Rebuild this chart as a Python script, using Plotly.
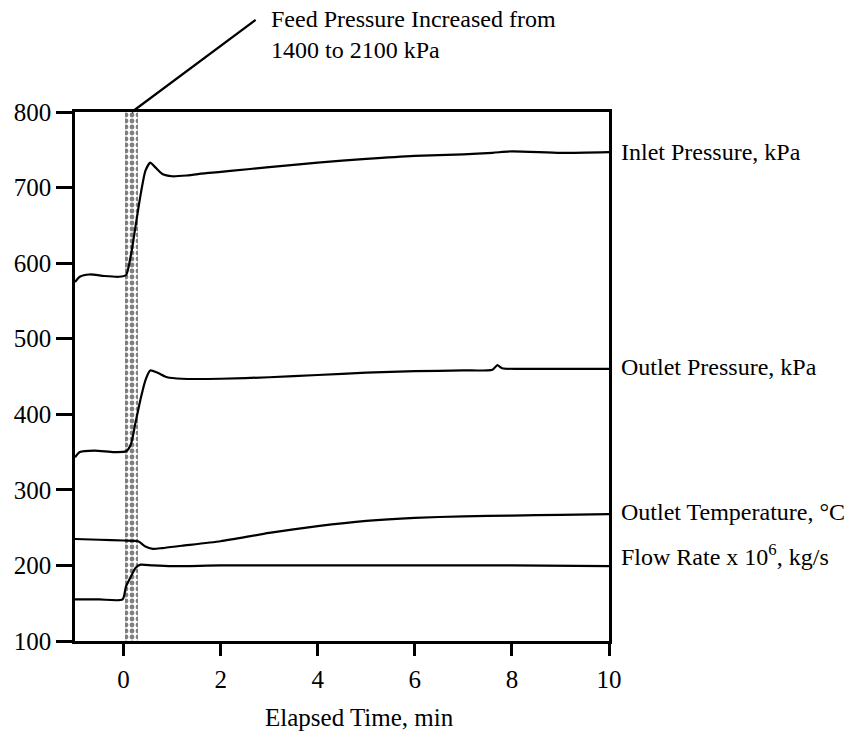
import plotly.graph_objects as go

# Transient response after the feed pressure step (time in minutes)
t_inlet = [-1.0, -0.9, -0.7, -0.4, -0.1, 0.05, 0.15, 0.25, 0.35, 0.45, 0.55, 0.65,
           0.8, 1.0, 1.3, 1.7, 2.2, 3.0, 4.0, 5.0, 6.0, 7.0, 7.6, 8.0, 9.0, 10.0]
inlet_pressure = [575, 582, 585, 583, 582, 584, 610, 650, 690, 722, 733, 727,
                  718, 715, 716, 719, 722, 727, 733, 738, 742, 744, 746, 748, 746, 747]

t_outlet = [-1.0, -0.9, -0.6, -0.2, 0.05, 0.15, 0.25, 0.35, 0.45, 0.55, 0.7, 0.9,
            1.2, 2.0, 3.0, 4.0, 5.0, 6.0, 7.0, 7.6, 7.7, 7.8, 8.5, 10.0]
outlet_pressure = [343, 350, 352, 350, 351, 360, 390, 420, 445, 458, 455, 449,
                   447, 447, 449, 452, 455, 457, 458, 459, 465, 461, 460, 460]

t_temp = [-1.0, -0.5, 0.0, 0.3, 0.45, 0.6, 0.8, 1.2, 2.0, 3.0, 4.0, 5.0, 6.0, 7.0, 8.0, 9.0, 10.0]
outlet_temp = [235, 234, 233, 232, 225, 222, 223, 226, 232, 243, 252, 259, 263, 265, 266, 267, 268]

t_flow = [-1.0, -0.5, -0.02, 0.05, 0.15, 0.25, 0.35, 0.6, 1.0, 2.0, 4.0, 6.0, 8.0, 10.0]
flow_rate = [155, 155, 155, 172, 185, 197, 201, 200, 199, 200, 200, 200, 200, 199]

series_labels = ["Inlet Pressure, kPa", "Outlet Pressure, kPa",
                 "Outlet Temperature, \u00b0C", "Flow Rate x 10<sup>6</sup>, kg/s"]
label_levels = [747, 463, 271, 214]

# Feed pressure step interval
step_start, step_end = 0.03, 0.29

x_ticks = [0, 2, 4, 6, 8, 10]
y_ticks = [100, 200, 300, 400, 500, 600, 700, 800]

FONT = "Liberation Serif"
FS = 25
fig = go.Figure()

# Stippled band marking the pressure step
fig.add_trace(go.Bar(
    x=[(step_start + step_end) / 2], y=[800 - 100], base=[100],
    width=[step_end - step_start],
    marker=dict(color="white", line=dict(width=0),
                pattern=dict(shape=".", fgcolor="black", bgcolor="white",
                             size=6, solidity=0.5)),
    hoverinfo="skip", showlegend=False,
))

for tx, ty in [(t_inlet, inlet_pressure), (t_outlet, outlet_pressure),
               (t_temp, outlet_temp), (t_flow, flow_rate)]:
    fig.add_trace(go.Scatter(
        x=tx, y=ty, mode="lines",
        line=dict(color="black", width=2.2, shape="spline", smoothing=0.6),
        showlegend=False, hoverinfo="skip",
    ))

annotations = []
for text, lvl in zip(series_labels, label_levels):
    annotations.append(dict(
        xref="paper", x=1, yref="y", y=lvl, text=text, showarrow=False,
        xanchor="left", yanchor="middle", xshift=10,
        font=dict(family=FONT, size=24, color="black"),
    ))

annotations.append(dict(
    xref="x", yref="paper", x=3.0, y=1.146, xanchor="left", yanchor="middle",
    text="Feed Pressure Increased from<br>1400 to 2100 kPa", showarrow=False, align="left",
    font=dict(family=FONT, size=24, color="black"),
))
annotations.append(dict(
    xref="x", x=4.86, yref="paper", y=0, yanchor="middle", yshift=-76,
    text="Elapsed Time, min", showarrow=False,
    font=dict(family=FONT, size=FS, color="black"),
))

# Leader line from the step band up to the note
fig.add_shape(type="line", xref="x", yref="paper", x0=0.17, y0=1.0, x1=2.72, y1=1.174,
              line=dict(color="black", width=2.2))

fig.update_layout(
    width=855, height=739,
    margin=dict(l=75, r=246, t=112, b=98),
    paper_bgcolor="white", plot_bgcolor="white",
    font=dict(family=FONT, size=FS, color="black"),
    annotations=annotations,
    bargap=0,
)
fig.update_xaxes(
    range=[-1, 10], tickvals=x_ticks, ticks="outside", ticklen=12, tickwidth=2.5,
    tickcolor="black", showline=True, linecolor="black", linewidth=2.5, mirror=True,
    showgrid=False, zeroline=False, tickfont=dict(family=FONT, size=FS),
    ticklabelstandoff=2,
)
fig.update_yaxes(
    range=[100, 800], tickvals=y_ticks, ticks="outside", ticklen=16, tickwidth=2.5,
    tickcolor="black", showline=True, linecolor="black", linewidth=2.5, mirror=True,
    showgrid=False, zeroline=False, tickfont=dict(family=FONT, size=FS),
)

fig.write_html("out.html")
